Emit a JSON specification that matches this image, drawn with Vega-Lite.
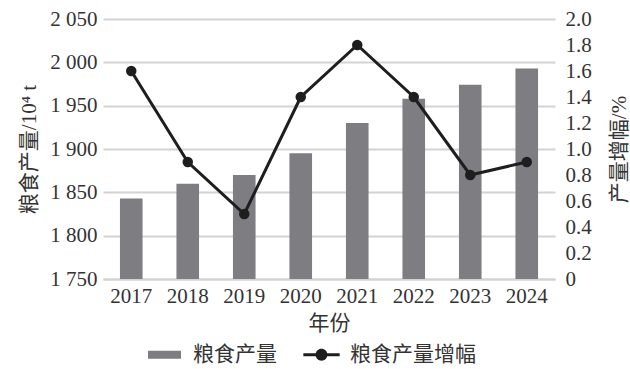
{
  "$schema": "https://vega.github.io/schema/vega-lite/v6.json",
  "autosize": "none",
  "width": 452,
  "height": 260,
  "padding": {"left": 103, "top": 19, "right": 75, "bottom": 90},
  "background": "white",
  "config": {
    "view": {"stroke": null},
    "font": "Liberation Serif, 'Noto Sans CJK SC'",
    "axis": {"labelFont": "Liberation Serif, 'Noto Sans CJK SC'", "titleFont": "Liberation Serif, 'Noto Sans CJK SC'", "labelFontSize": 21, "titleFontSize": 21, "labelColor": "#333333", "titleColor": "#333333", "titleFontWeight": "normal"},
    "legend": {"labelFont": "Liberation Serif, 'Noto Sans CJK SC'", "labelFontSize": 21, "labelColor": "#333333"}
  },
  "data": {"values": [
    {"year": "2017", "output": 1843, "growth": 1.6},
    {"year": "2018", "output": 1860, "growth": 0.9},
    {"year": "2019", "output": 1870, "growth": 0.5},
    {"year": "2020", "output": 1895, "growth": 1.4},
    {"year": "2021", "output": 1930, "growth": 1.8},
    {"year": "2022", "output": 1958, "growth": 1.4},
    {"year": "2023", "output": 1974, "growth": 0.8},
    {"year": "2024", "output": 1993, "growth": 0.9}
  ]},
  "encoding": {
    "x": {"field": "year", "type": "ordinal", "scale": {"paddingInner": 0.6, "paddingOuter": 0.3},
      "axis": {"title": "年份", "labelAngle": 0, "ticks": false, "domainColor": "#d3d3d3", "domainWidth": 2, "labelPadding": 6, "titlePadding": 6}}
  },
  "layer": [
    {
      "mark": {"type": "bar"},
      "encoding": {
        "y": {"field": "output", "type": "quantitative", "scale": {"domain": [1750, 2050], "zero": false, "nice": false},
          "axis": {"title": "粮食产量/10⁴ t", "values": [1750, 1800, 1850, 1900, 1950, 2000, 2050], "labelExpr": "replace(format(datum.value, ','), ',', ' ')", "grid": true, "gridColor": "#d3d3d3", "gridWidth": 2, "ticks": false, "domain": false, "labelPadding": 6, "titlePadding": 10}},
        "y2": {"datum": 1750},
        "color": {"datum": "粮食产量", "type": "nominal", "scale": {"domain": ["粮食产量", "粮食产量增幅"], "range": ["#7d7d82", "#1e1e1e"]},
          "legend": {"title": null, "orient": "none", "direction": "horizontal", "legendX": 45, "legendY": 319, "columnPadding": 26, "labelOffset": 12, "symbolSize": 1089,
            "encode": {"symbols": {"update": {
              "shape": {"signal": "datum.value === '粮食产量' ? 'M-1,-0.24H1V0.24H-1Z' : 'M-1.1,-0.09H1.1V0.09H-1.1Z M0.36,0A0.36,0.36 0 1,1 -0.36,0A0.36,0.36 0 1,1 0.36,0Z'"},
              "fill": {"signal": "datum.value === '粮食产量' ? '#7d7d82' : '#1e1e1e'"},
              "strokeWidth": {"value": 0},
              "size": {"value": 1089},
              "opacity": {"value": 1},
              "fillOpacity": {"value": 1}
            }}}}}
      }
    },
    {
      "mark": {"type": "line", "strokeWidth": 3, "point": {"filled": true, "size": 110, "opacity": 1}},
      "encoding": {
        "y": {"field": "growth", "type": "quantitative", "scale": {"domain": [0, 2], "nice": false},
          "axis": {"orient": "right", "title": "产量增幅/%", "titleAngle": 270, "titleBaseline": "top", "values": [0, 0.2, 0.4, 0.6, 0.8, 1.0, 1.2, 1.4, 1.6, 1.8, 2.0], "labelExpr": "datum.value == 0 ? '0' : format(datum.value, '.1f')", "grid": false, "ticks": false, "domain": false, "labelPadding": 10, "titlePadding": 17}},
        "color": {"datum": "粮食产量增幅", "type": "nominal"}
      }
    }
  ],
  "resolve": {"scale": {"y": "independent"}}
}
